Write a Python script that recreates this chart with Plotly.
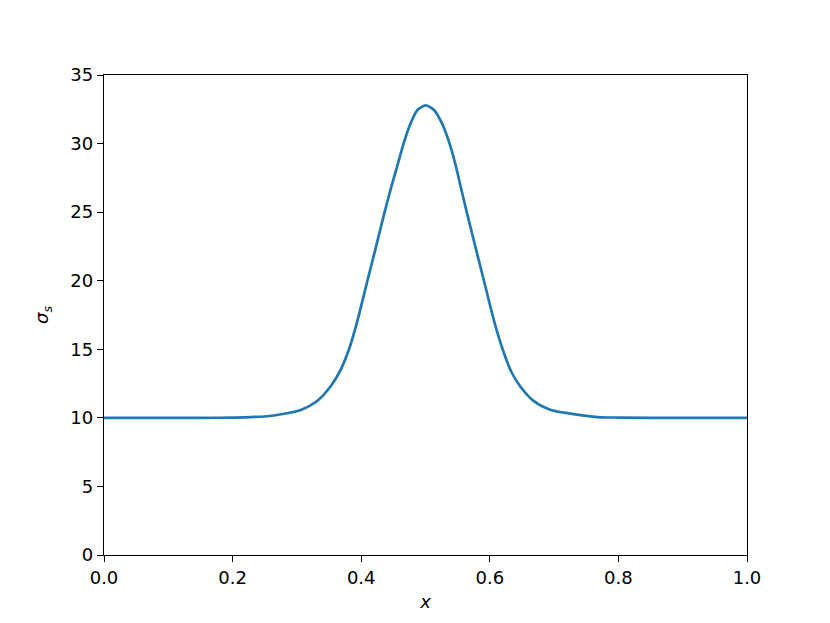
import plotly.graph_objects as go

# values
x_vals = [0.0, 0.1, 0.15, 0.2, 0.228, 0.25, 0.28, 0.306, 0.332, 0.3525, 0.368, 0.381,
          0.394, 0.4096, 0.4226, 0.4355, 0.446, 0.4563, 0.4666, 0.477, 0.4875, 0.5004,
          0.5133, 0.5264, 0.5367, 0.547, 0.555, 0.565, 0.578, 0.591, 0.6067, 0.62,
          0.633, 0.648, 0.669, 0.695, 0.7157, 0.7676, 0.8, 0.9, 1.0]
sigma_s = [10.0, 10.0, 10.0, 10.02, 10.06, 10.1, 10.3, 10.58, 11.25, 12.3, 13.5, 15.0,
           17.06, 19.98, 22.4, 24.84, 26.7, 28.4, 30.1, 31.5, 32.45, 32.78,
           32.45, 31.4, 30.1, 28.4, 26.8, 24.84, 22.4, 19.98, 17.06, 15.0,
           13.4, 12.25, 11.2, 10.58, 10.38, 10.06, 10.02, 10.0, 10.0]

x_ticks = [0.0, 0.2, 0.4, 0.6, 0.8, 1.0]
y_ticks = [0, 5, 10, 15, 20, 25, 30, 35]

fig = go.Figure()
fig.add_trace(go.Scatter(
    x=x_vals, y=sigma_s, mode="lines",
    line=dict(color="#1f77b4", width=2.7, shape="spline", smoothing=0.7),
    showlegend=False,
))

axis_common = dict(
    showline=True, linecolor="black", linewidth=1.4, mirror=True,
    ticks="outside", ticklen=6, tickwidth=1.4, tickcolor="black",
    showgrid=False, zeroline=False,
    tickfont=dict(family="DejaVu Sans", size=18, color="black"),
)

fig.update_layout(
    width=822, height=615,
    margin=dict(l=96, r=83, t=67, b=68),
    paper_bgcolor="white", plot_bgcolor="white",
    font=dict(family="DejaVu Sans", color="black", size=18),
    xaxis=dict(range=[0, 1], tickvals=x_ticks, ticktext=[f"{v:.1f}" for v in x_ticks],
               title=dict(text="<i>x</i>", font=dict(size=18), standoff=8), **axis_common),
    yaxis=dict(range=[0, 35], tickvals=y_ticks,
               title=dict(text="<i>σ<sub>s</sub></i>", font=dict(size=18), standoff=16), **axis_common),
)

fig.write_html("out.html")
